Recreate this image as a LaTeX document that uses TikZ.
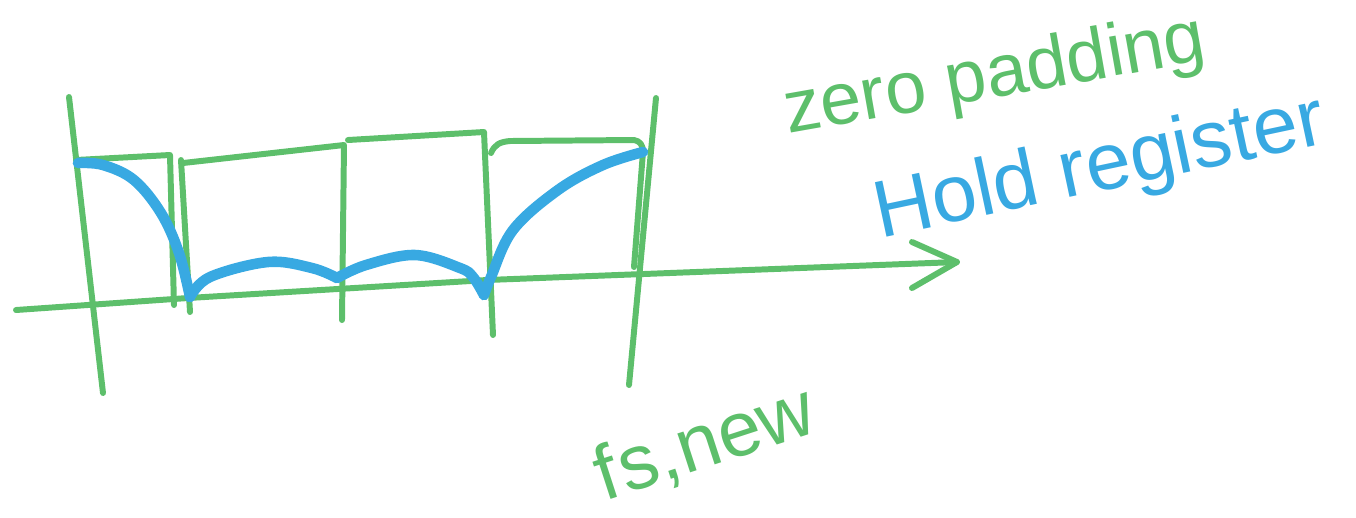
\documentclass[tikz,border=0pt]{standalone}
\usepackage{fontspec}
\setmainfont{Liberation Sans}
\definecolor{mkgreen}{HTML}{5DBF6B}
\definecolor{mkblue}{HTML}{38A9E2}
\begin{document}
\begin{tikzpicture}[x=0.01cm,y=-0.01cm,
  gline/.style={draw=mkgreen,line width=1.7pt,line cap=round,line join=round},
  bline/.style={draw=mkblue,line width=3pt,line cap=round,line join=round},
  gtext/.style={text=mkgreen,inner sep=0pt},
  btext/.style={text=mkblue,inner sep=0pt}]
\useasboundingbox (0,0) rectangle (1356,517);
% axis
\coordinate (axL) at (16,310);
\coordinate (axR) at (957,262);
\draw[gline] (axL) -- (188,298) -- (487,280) -- (axR);
\coordinate (arU) at (912,242);
\coordinate (arD) at (912,288);
\draw[gline] (arU) -- (axR) -- (arD);
% vertical lines
\draw[gline] (69,97) -- (103,393);
\draw[gline] (656,98) -- (629,385);
\draw[gline] (643,152) -- (634,267);
% hold register rectangles
\draw[gline] (76,160) -- (170,155) -- (174,305);
\draw[gline] (181,160) -- (190,312);
\draw[gline] (183,163) -- (344,145) -- (342,320);
\draw[gline] (348,140) -- (484,132) -- (493,335);
\draw[gline] (491,153) .. controls (495,144) and (500,142) .. (510,141) -- (634,140) .. controls (640,141) and (643,145) .. (643,152);
% blue curve
\draw[bline] plot[smooth,tension=0.6] coordinates {(78,163) (103,165) (134,180) (161,213) (179,253) (190,297)};
\draw[bline] plot[smooth,tension=0.6] coordinates {(190,297) (210,277) (268,262) (312,268) (337,278)};
\draw[bline] plot[smooth,tension=0.6] coordinates {(337,278) (366,265) (415,255) (460,268) (473,277) (484,295)};
\draw[bline] plot[smooth,tension=0.6] coordinates {(484,295) (491,277) (513,230) (558,190) (603,165) (643,152)};
% texts
\node[gtext,rotate=10,font=\fontsize{21}{21}\selectfont] (zp) at (995,78) {zero padding};
\node[btext,rotate=12,font=\fontsize{23}{23}\selectfont] (hr) at (1100,170) {Hold register};
\node[gtext,rotate=18,font=\fontsize{22}{22}\selectfont] (fs) at (705,444) {f\kern1pt s,new};
\end{tikzpicture}
\end{document}
